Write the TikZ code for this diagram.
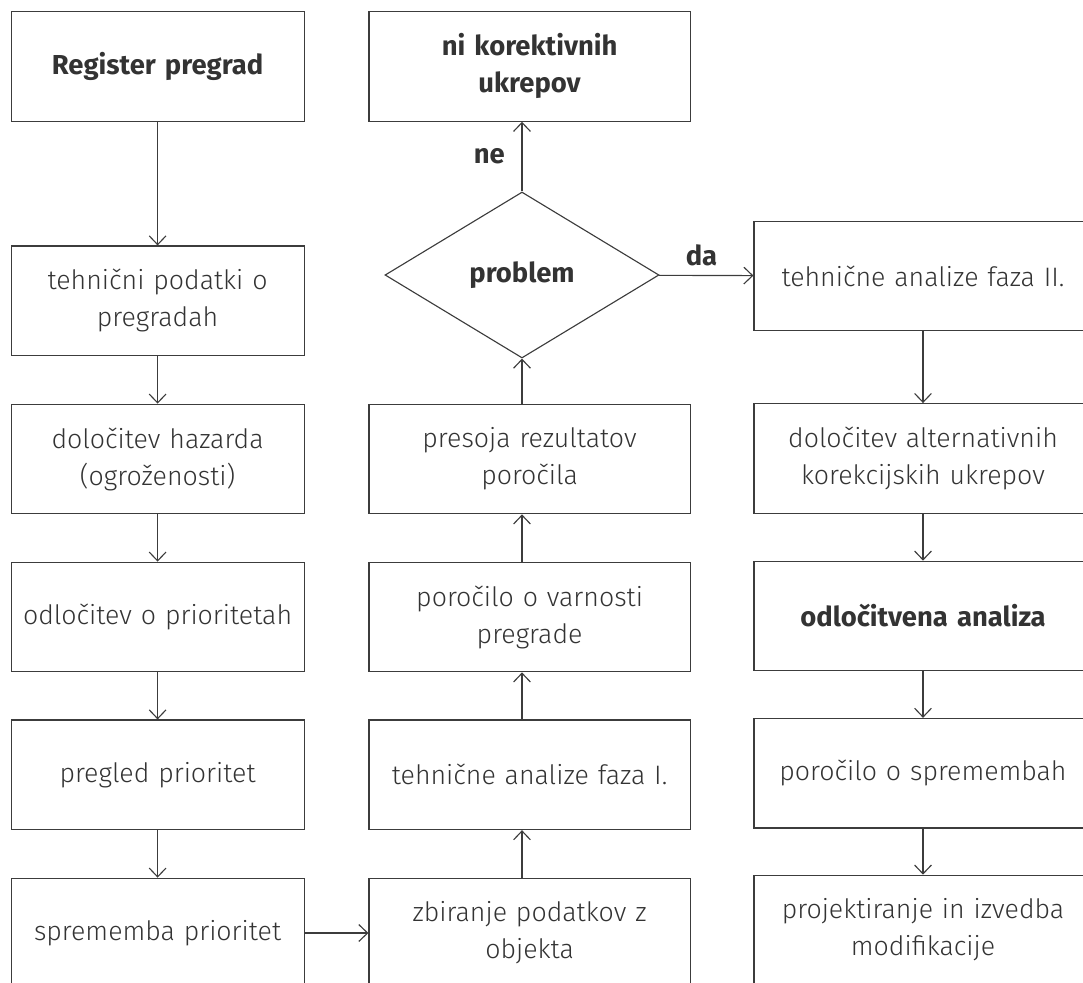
\documentclass[tikz,border=0pt]{standalone}
\usepackage{fontspec}
\setmainfont{Fira Sans}[UprightFont=* Light, BoldFont=* Bold]
\usepackage{xcolor}
\usetikzlibrary{shapes.geometric,arrows.meta}

\definecolor{ink}{HTML}{333333}
\definecolor{edge}{HTML}{3C3C3C}

\begin{document}
\begin{tikzpicture}[
    box/.style={
        draw=edge,
        line width=0.8pt,
        align=center,
        text width=#1,
        minimum height=2.74cm,
        inner sep=0pt,
        text=ink,
        font=\fontsize{19pt}{26.3pt}\selectfont
    },
    decision/.style={
        draw=edge,
        line width=0.8pt,
        diamond,
        aspect=1.65,
        minimum width=6.85cm,
        minimum height=4.15cm,
        inner sep=0pt,
        text=ink,
        font=\fontsize{19.5pt}{26.3pt}\selectfont\bfseries
    },
    arrow/.style={
        -{Straight Barb[length=0.22cm,width=0.42cm]},
        draw=edge,
        line width=0.8pt
    },
    answer/.style={
        text=ink,
        font=\fontsize{19.5pt}{26.3pt}\selectfont\bfseries
    },
    strong/.style={
        font=\fontsize{19.5pt}{26.3pt}\selectfont\bfseries
    }
]

\useasboundingbox (0,0) rectangle (27.075,-24.55);
\clip (0,0) rectangle (27.075,-24.55);

% left column
\node[box=7.325cm, strong] (register) at (3.94,-1.66)
{
    Register pregrad
};

\node[box=7.325cm] (podatki) at (3.94,-7.52)
{
    tehnični podatki o\\
    pregradah
};

\node[box=7.325cm] (hazard) at (3.94,-11.475)
{
    določitev hazarda\\
    (ogroženosti)
};

\node[box=7.325cm] (odlocitev) at (3.94,-15.425)
{
    odločitev o prioritetah
};

\node[box=7.325cm] (pregled) at (3.94,-19.37)
{
    pregled prioritet
};

\node[box=7.325cm] (sprememba) at (3.94,-23.325)
{
    sprememba prioritet
};

% middle column
\node[box=8.03cm, strong] (nikor) at (13.24,-1.66)
{
    ni korektivnih\\
    ukrepov
};

\node[decision] (problem) at (13.05,-6.875)
{
    problem
};

\node[box=8.03cm] (presoja) at (13.24,-11.475)
{
    presoja rezultatov\\
    poročila
};

\node[box=8.03cm] (varnost) at (13.24,-15.425)
{
    poročilo o varnosti\\
    pregrade
};

\node[box=8.03cm] (fazaI) at (13.24,-19.37)
{
    tehnične analize faza I.
};

\node[box=8.03cm] (zbiranje) at (13.24,-23.325)
{
    zbiranje podatkov z\\
    objekta
};

% right column
\node[box=8.45cm] (fazaII) at (23.075,-6.9)
{
    tehnične analize faza II.
};

\node[box=8.45cm] (alternative) at (23.075,-11.46)
{
    določitev alternativnih\\
    korekcijskih ukrepov
};

\node[box=8.45cm, strong] (analiza) at (23.075,-15.4)
{
    odločitvena analiza
};

\node[box=8.45cm] (spremembe) at (23.075,-19.33)
{
    poročilo o spremembah
};

\node[box=8.45cm] (projekt) at (23.075,-23.25)
{
    projektiranje in izvedba\\
    modifikacije
};

\draw[arrow] (register) -- (podatki);
\draw[arrow] (podatki) -- (hazard);
\draw[arrow] (hazard) -- (odlocitev);
\draw[arrow] (odlocitev) -- (pregled);
\draw[arrow] (pregled) -- (sprememba);

\draw[arrow] (sprememba) -- (zbiranje);

\draw[arrow] (zbiranje.north -| problem) -- (fazaI.south -| problem);
\draw[arrow] (fazaI.north -| problem) -- (varnost.south -| problem);
\draw[arrow] (varnost.north -| problem) -- (presoja.south -| problem);
\draw[arrow] (presoja.north -| problem) -- (problem);

\draw[arrow] (problem) -- node[answer, left=0.3cm] {ne} (nikor.south -| problem);
\draw[arrow] (problem) -- node[answer, above=0.1cm, pos=0.45] {da} (fazaII);

\draw[arrow] (fazaII) -- (alternative);
\draw[arrow] (alternative) -- (analiza);
\draw[arrow] (analiza) -- (spremembe);
\draw[arrow] (spremembe) -- (projekt);

\end{tikzpicture}
\end{document}
